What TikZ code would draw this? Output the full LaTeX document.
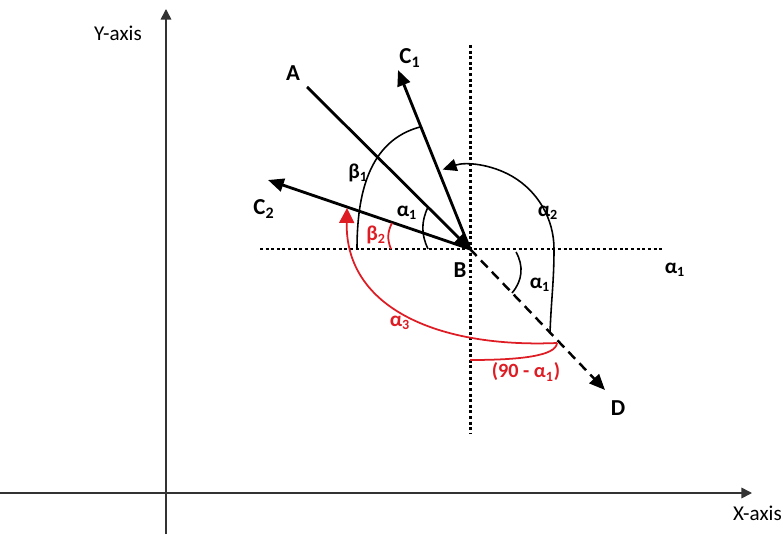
\documentclass[tikz,border=0pt]{standalone}
\usepackage{fontspec}
\setmainfont{Carlito}
\usetikzlibrary{arrows.meta}
\definecolor{xRed}{RGB}{222,28,36}
\newcommand{\Sb}[2]{#1\textsubscript{#2}}
\tikzset{
  lbl/.style={font=\fontsize{13}{15}\selectfont\bfseries, inner sep=1pt},
  glbl/.style={font=\fontsize{12}{14}\selectfont\bfseries, inner sep=1pt},
  axlbl/.style={font=\fontsize{12}{14}\selectfont, inner sep=1pt},
  axis/.style={-{Triangle[length=6pt,width=6pt]}, line width=0.9pt, black!80},
  grid/.style={line width=1.7pt, dash pattern=on 1.7pt off 1.5pt},
  vec/.style={-{Triangle[length=9pt,width=7.5pt]}, line width=1.6pt},
  proj/.style={-{Triangle[length=9pt,width=7.5pt]}, line width=1.4pt, dash pattern=on 5.5pt off 3.5pt},
  ang/.style={line width=0.9pt},
  rang/.style={line width=1pt, xRed},
}

\begin{document}
\begin{tikzpicture}[x=0.02cm, y=0.02cm]
    \useasboundingbox (0,0) rectangle (783,534);
    \coordinate (yBot) at (166,0);
    \coordinate (yTop) at (166,525);
    \coordinate (xLft) at (0,41);
    \coordinate (xRgt) at (752,41);
    \draw[axis] (yBot) -- (yTop);
    \draw[axis] (xLft) -- (xRgt);
    \node[axlbl] (ylab) at (118,501) {Y-axis};
    \node[axlbl, anchor=west] (xlab) at (731,21) {X-axis};
    \coordinate (B)  at (470,285);
    \coordinate (hL) at (260,285);
    \coordinate (hR) at (662,285);
    \coordinate (vT) at (470,489);
    \coordinate (vB) at (470,100);
    \draw[grid] (hL) -- (hR);
    \draw[grid] (vT) -- (vB);
    \coordinate (A)  at (307,447);
    \coordinate (C1) at (398,464);
    \coordinate (C2) at (268,354);
    \coordinate (D)  at (605,144);
    \draw[vec]  (A) -- (B);
    \draw[vec]  (B) -- (C1);
    \draw[vec]  (B) -- (C2);
    \draw[proj] (B) -- (D);
    \coordinate (b1s) at (357,285);
    \coordinate (b1e) at (420,407);
    \coordinate (a1s) at (428,285);
    \coordinate (a1e) at (428,327);
    \coordinate (b2s) at (391,285);
    \coordinate (b2e) at (392,311);
    \coordinate (a2s) at (550,201);
    \coordinate (a2m) at (554,285);
    \coordinate (a1ls) at (516,282);
    \coordinate (a1le) at (512,241);
    \coordinate (a3s) at (557,191);
    \coordinate (a3e) at (347,326);
    \coordinate (n0)  at (470,174);
    \draw[ang]  (b1s) to[out=90, in=195] (b1e);
    \draw[ang]  (a1s) to[bend left=25] (a1e);
    \draw[rang] (b2s) to[bend left=25] (b2e);
    \draw[ang, -{Triangle[length=8pt,width=7pt]}] (a2s) to[out=88, in=-90] (a2m) arc[start angle=0, end angle=109, radius=84];
    \draw[ang]  (a1ls) to[bend left=35] (a1le);
    \draw[rang, -{Triangle[length=8.5pt,width=8.5pt]}] (a3s) .. controls (440,186) and (345,225) .. (a3e);
    \draw[rang] (n0) .. controls (520,174) and (556,178) .. (a3s);
    \node[lbl] (lA)   at (293,461) {A};
    \node[lbl] (lC1)  at (410,476) {\Sb{C}{1}};
    \node[lbl] (lC2)  at (264,325) {\Sb{C}{2}};
    \node[lbl] (lD)   at (618,126) {D};
    \node[lbl] (lB)   at (460,264) {B};
    \node[glbl] (lb1)  at (358,361) {\Sb{β}{1}};
    \node[glbl] (la1)  at (407,321) {\Sb{α}{1}};
    \node[glbl, xRed] (lb2) at (376,299) {\Sb{β}{2}};
    \node[glbl] (la2)  at (548,321) {\Sb{α}{2}};
    \node[glbl] (la1b) at (540,249) {\Sb{α}{1}};
    \node[glbl] (la1c) at (675,264) {\Sb{α}{1}};
    \node[glbl, xRed] (la3) at (400,211) {\Sb{α}{3}};
    \node[lbl, font=\fontsize{11.5}{13}\selectfont\bfseries, xRed] (lnin) at (526,162) {(90 - \Sb{α}{1})};
  \end{tikzpicture}
\end{document}
